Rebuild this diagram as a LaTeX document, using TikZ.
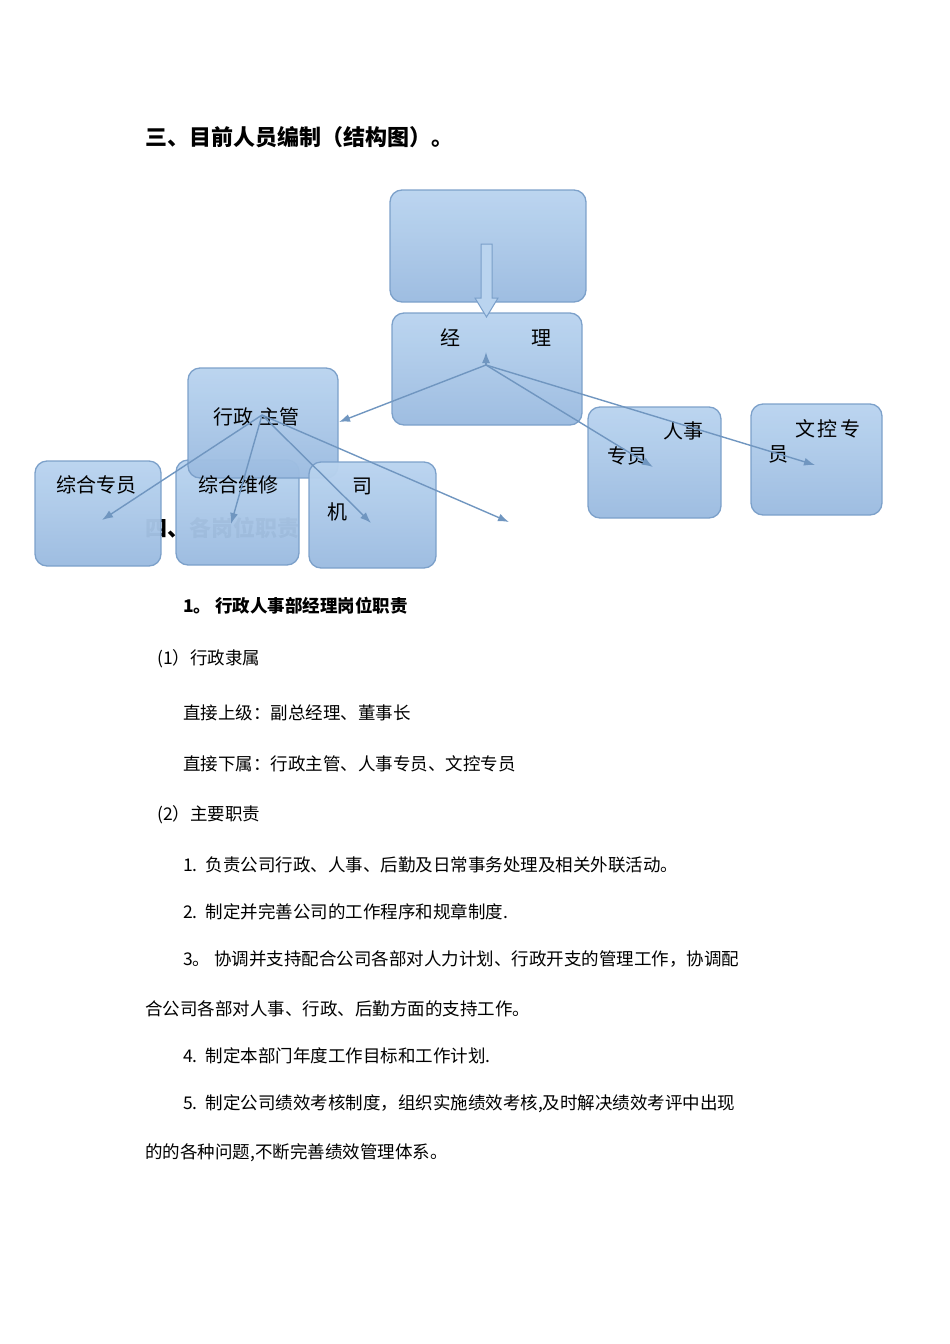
\documentclass[tikz,border=0pt]{standalone}
\usepackage{fontspec}
\setmainfont{Noto Sans CJK SC}
\usetikzlibrary{arrows.meta}
\begin{document}
\begin{tikzpicture}[x=1pt,y=-1pt,
  box/.style={draw=boxline,line width=1.3pt,rounded corners=12pt,top color=boxtop,bottom color=boxbot,opacity=0.97},
  lbl/.style={font=\fontsize{20}{20}\selectfont,inner sep=0pt},
  bt/.style={anchor=west,font=\fontsize{17.5}{17.5}\selectfont,inner sep=0pt},
  arr/.style={draw=arrc,line width=1.4pt,-{Latex[length=11pt,width=8pt]}}]
\definecolor{boxtop}{HTML}{BAD4EF}
\definecolor{boxbot}{HTML}{9BBBE0}
\definecolor{boxline}{HTML}{7A9FC9}
\definecolor{arrc}{HTML}{7096C0}
\useasboundingbox (0,0) rectangle (950,1344);
\node[anchor=west,font=\bfseries\fontsize{22}{22}\selectfont,inner sep=0pt] (title) at (145,137) {三、目前人员编制（结构图）。};
\node[anchor=west,font=\bfseries\fontsize{22}{22}\selectfont,inner sep=0pt] (sec4) at (145,528) {四、各岗位职责};
% boxes
\draw[box] (390,190) rectangle (586,302);
\draw[box] (392,313) rectangle (582,425);
\draw[box] (35,461) rectangle (161,566);
\draw[box] (176,460) rectangle (299,565);
\draw[box] (188,368) rectangle (338,478);
\draw[box] (309,462) rectangle (436,568);
\draw[box] (588,407) rectangle (721,518);
\draw[box] (751,404) rectangle (882,515);
% hollow arrow
\draw[draw=boxline,line width=1pt,fill=boxtop] (481,244) -- (492,244) -- (492,298) -- (498,298) -- (486.5,317) -- (475,298) -- (481,298) -- cycle;
% labels
\node[lbl] (l1) at (450,338) {经};
\node[lbl] (l2) at (541,338) {理};
\node[lbl] (l3) at (256,417) {行政\hspace{0.3em}主管};
\node[lbl] (l4) at (96,485) {综合专员};
\node[lbl] (l5) at (238,485) {综合维修};
\node[lbl] (l6) at (362,486) {司};
\node[lbl] (l7) at (337,512) {机};
\node[lbl] (l8) at (683,431) {人事};
\node[lbl] (l9) at (627,456) {专员};
\node[lbl] (l10) at (828,429) {文\hspace{0.15em}控\hspace{0.15em}专};
\node[lbl] (l11) at (778,454) {员};
% connectors
\coordinate (m) at (486,365);
\coordinate (s) at (262,415);
\coordinate (mu) at (486,352);
\coordinate (t1) at (339,422);
\coordinate (t2) at (653,467);
\coordinate (t3) at (815,465);
\coordinate (u1) at (102,520);
\coordinate (u2) at (231,524);
\coordinate (u3) at (371,523);
\coordinate (u4) at (509,522);
\draw[arr] (m) -- (t1);
\draw[arr] (m) -- (t2);
\draw[arr] (m) -- (t3);
\draw[arr] (m) -- (mu);
\draw[arr] (s) -- (u1);
\draw[arr] (s) -- (u2);
\draw[arr] (s) -- (u3);
\draw[arr] (s) -- (u4);
% body text
\node[bt,font=\bfseries\fontsize{17.5}{17.5}\selectfont] (b1) at (183,606) {1。 行政人事部经理岗位职责};
\node[bt] (b2) at (157,659) {(1）行政隶属};
\node[bt] (b3) at (183,713) {直接上级：副总经理、董事长};
\node[bt] (b4) at (183,764) {直接下属：行政主管、人事专员、文控专员};
\node[bt] (b5) at (157,815) {(2）主要职责};
\node[bt] (b6) at (183,865) {1.\ \ 负责公司行政、人事、后勤及日常事务处理及相关外联活动。};
\node[bt] (b7) at (183,912) {2.\ \ 制定并完善公司的工作程序和规章制度.};
\node[bt] (b8) at (183,959) {3。\ 协调并支持配合公司各部对人力计划、行政开支的管理工作，协调配};
\node[bt] (b9) at (145,1009) {合公司各部对人事、行政、后勤方面的支持工作。};
\node[bt] (b10) at (183,1056) {4.\ \ 制定本部门年度工作目标和工作计划.};
\node[bt] (b11) at (183,1104) {5.\ \ 制定公司绩效考核制度，组织实施绩效考核,及时解决绩效考评中出现};
\node[bt] (b12) at (145,1153) {的的各种问题,不断完善绩效管理体系。};
\end{tikzpicture}
\end{document}
